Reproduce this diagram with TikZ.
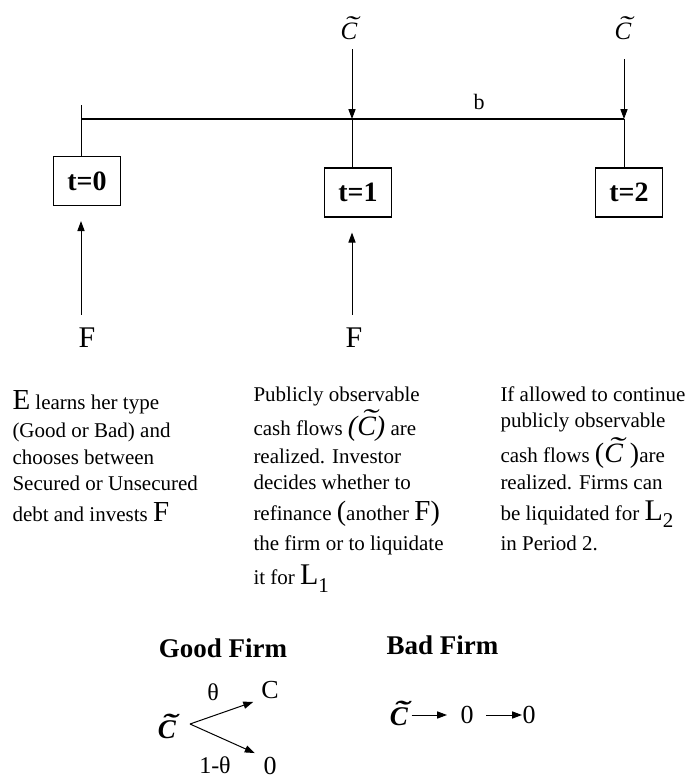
\documentclass[tikz,border=0pt]{standalone}
\usepackage{fontspec}
\setmainfont{Liberation Serif}
\usetikzlibrary{arrows.meta, positioning, calc}

% C with a wide tilde
\newcommand{\Ctil}{{\ooalign{C\cr\hidewidth\kern.15em\raisebox{.22em}{\scalebox{1.7}[1]{\char"02DC}}\hidewidth\cr}}}
\newcommand{\fs}[1]{\fontsize{#1}{#1}\selectfont}

\begin{document}
\begin{tikzpicture}[
  x=0.5pt, y=-0.5pt,
  line width=0.5pt,
  arr/.style={-{Triangle[length=5pt,width=3.6pt]}},
  tbox/.style={draw, line width=0.6pt, minimum width=33.5pt, minimum height=24.5pt,
               inner sep=0pt, font=\fs{14}\bfseries},
  lbl/.style={inner sep=0pt},
  blk/.style={inner sep=0pt, anchor=north west, align=left,
              font=\fontsize{10.5}{13.3}\selectfont},
]
\useasboundingbox (0,0) rectangle (688,778);

% time line
\coordinate (tick0) at (81,105);
\coordinate (tl0) at (81,119);
\coordinate (tl1) at (352,119);
\coordinate (tl2) at (624,119);
\draw[line width=0.8pt] (tl0) -- (tl2);
\node[font=\fs{11}] (blab) at (479,102) {b};

% dates
\node[tbox] (box0) at (87,181)   {t=0};
\node[tbox] (box1) at (358,192.5) {t=1};
\node[tbox] (box2) at (629,192.5) {t=2};
\draw (tick0) -- (box0.north -| tick0);
\draw (tl1) -- (box1.north -| tl1);
\draw (tl2) -- (box2.north -| tl2);

% cash flows in
\node[lbl, anchor=base, font=\fs{12.5}\itshape] (cf1) at (349,39) {\Ctil};
\node[lbl, anchor=base, font=\fs{12.5}\itshape] (cf2) at (623,39) {\Ctil};
\draw[arr, shorten <=5pt] (cf1.base -| tl1) -- (tl1);
\draw[arr, shorten <=10pt] (cf2.base -| tl2) -- (tl2);

% investment
\node[lbl, font=\fs{15}] (f0) at (87,338) {F};
\node[lbl, font=\fs{15}] (f1) at (354,338) {F};
\draw[arr, shorten <=6.5pt, shorten >=7.5pt] (f0.north -| tl0) -- (box0.south -| tl0);
\draw[arr, shorten <=6.5pt, shorten >=7.5pt] (f1.north -| tl1) -- (box1.south -| tl1);

% descriptions
\node[blk] (txt0) at (12,390)
  {{\fs{14.5}E} learns her type\\[0.7pt]
   (Good or Bad) and\\
   chooses between\\
   Secured or Unsecured\\[2.2pt]
   debt and invests {\fs{14.5}F}};
\node[blk] (txt1) at (253,386)
  {Publicly observable\\[3.7pt]
   cash flows {\fs{14}\itshape(\Ctil)} are\\[0.7pt]
   realized. Investor\\
   decides whether to\\[2.2pt]
   refinance {\fs{14}(}another {\fs{14.5}F}{\fs{14})}\\[1.7pt]
   the firm or to liquidate\\[3.7pt]
   it for {\fs{15}L}\raisebox{-.35em}{1}};
\node[blk] (txt2) at (500,386)
  {If allowed to continue\\
   publicly observable\\[4.2pt]
   cash flows {\fs{14}(\textit{\Ctil}\ )}are\\
   realized. Firms can\\[2.2pt]
   be liquidated for {\fs{15}L}\raisebox{-.35em}{2}\\[1.7pt]
   in Period 2.};

% good firm
\node[anchor=base, font=\fs{13.5}\bfseries] (good) at (223,657) {Good Firm};
\node[lbl, anchor=base, font=\fs{13.5}\bfseries\itshape] (gct) at (167,738) {\Ctil};
\coordinate (gsplit) at (190,724);
\node[lbl, font=\fs{13}] (gC) at (270,690) {C};
\node[lbl, font=\fs{13}] (g0) at (270,766) {0};
\node[lbl, font=\fs{12}] (gth) at (213,692) {θ};
\node[lbl, font=\fs{12}] (gth2) at (215,765) {1-θ};
\draw[arr, shorten >=4pt] (gsplit) -- (gC.south west);
\draw[arr, shorten >=4.5pt] (gsplit) -- (g0.north west);

% bad firm
\node[anchor=base, font=\fs{13.5}\bfseries] (bad) at (442.5,654) {Bad Firm};
\node[lbl, anchor=base, font=\fs{13.5}\bfseries\itshape] (bct) at (399,725) {\Ctil};
\node[lbl, font=\fs{13}] (b0) at (467,715) {0};
\node[lbl, font=\fs{13}] (b00) at (529,715) {0};
\draw[arr, shorten <=1.5pt, shorten >=6.5pt] (bct.east |- b0.west) -- (b0.west);
\draw[arr, shorten <=6pt] (b0.east) -- (b00.west);
\end{tikzpicture}
\end{document}
